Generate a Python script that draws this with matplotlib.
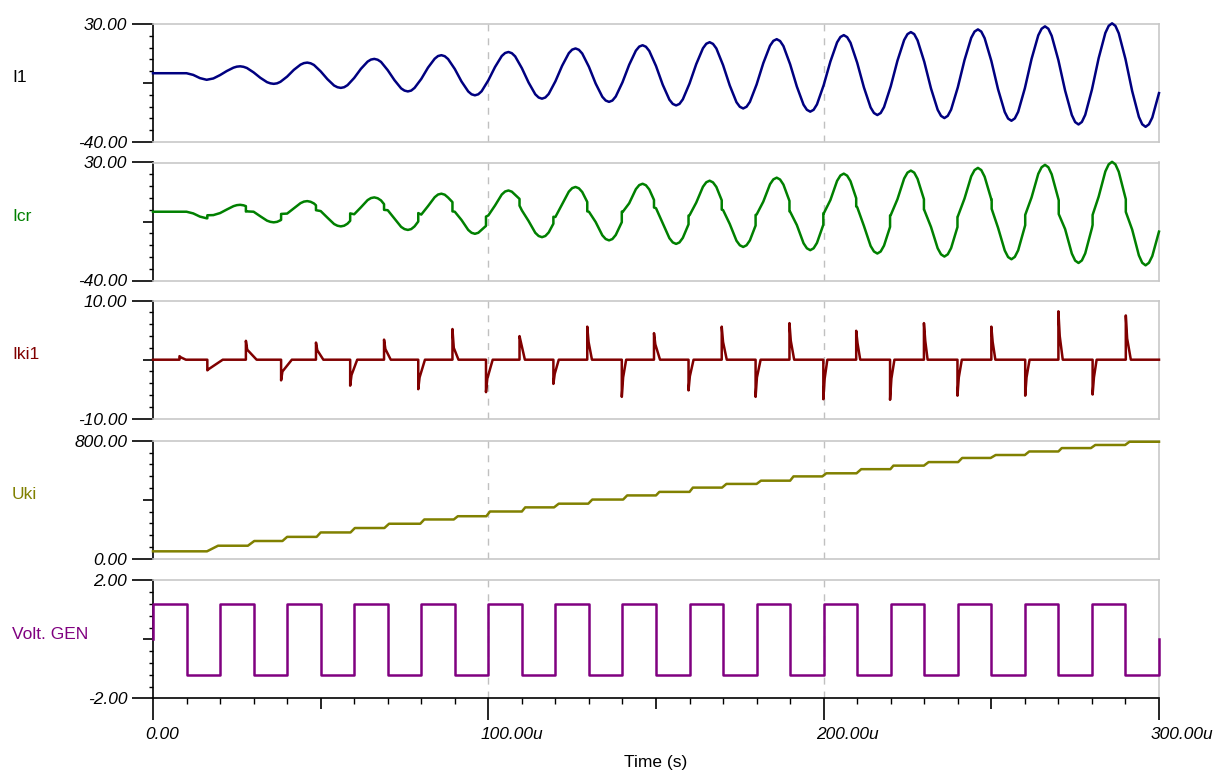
"""
Transient analysis plot - five stacked traces (I1, Icr, Iki1, Uki, Volt. GEN)
sharing one time axis, in the style of a circuit simulator output.
"""

import numpy as np
import matplotlib
matplotlib.use("Agg")  # headless

import matplotlib.pyplot as plt
from matplotlib.ticker import FixedLocator
from matplotlib.transforms import ScaledTranslation

plt.rcParams["font.family"] = ["Liberation Sans", "DejaVu Sans"]

# ---------------------------------------------------------------------------
# Data (time in microseconds)
# ---------------------------------------------------------------------------

# I1 sampled every 2 us, t = 0 .. 300
i1_t = np.arange(0, 301, 2)
i1_values = [
    0.8, 0.8, 0.8, 0.8, 0.8, 0.8, -0.2, -2.1, -3.1, -2.3,
    -0.3, 2.1, 4.1, 4.9, 3.9, 1.3, -1.9, -4.5, -5.5, -4.3,
    -1.2, 2.8, 5.9, 7.1, 5.7, 1.9, -2.7, -6.5, -7.9, -6.3,
    -2.0, 3.4, 7.7, 9.3, 7.5, 2.6, -3.3, -8.2, -10.0, -7.9,
    -2.6, 4.1, 9.4, 11.5, 9.2, 3.3, -4.1, -10.0, -12.3, -9.9,
    -3.4, 4.5, 11.0, 13.4, 10.8, 3.8, -4.7, -11.7, -14.3, -11.5,
    -4.0, 5.2, 12.7, 15.5, 12.5, 4.6, -5.3, -13.2, -16.2, -13.0,
    -4.6, 5.8, 14.2, 17.4, 14.0, 5.1, -6.0, -14.9, -18.3, -14.7,
    -5.3, 6.2, 15.6, 19.2, 15.5, 5.6, -6.5, -16.4, -20.1, -16.2,
    -5.9, 6.8, 17.1, 21.0, 16.9, 6.1, -7.1, -17.9, -22.0, -17.7,
    -6.3, 7.7, 19.1, 23.4, 18.9, 7.0, -7.6, -19.5, -24.0, -19.3,
    -7.0, 8.2, 20.5, 25.2, 20.3, 7.6, -8.2, -20.9, -25.8, -20.8,
    -7.6, 8.6, 21.8, 26.8, 21.6, 8.1, -8.7, -22.2, -27.4, -22.1,
    -8.1, 9.3, 23.3, 28.6, 23.0, 8.5, -9.5, -24.0, -29.6, -23.9,
    -8.9, 9.7, 24.7, 30.4, 24.5, 9.2, -9.8, -25.1, -31.0, -25.5,
    -11.0,
]
# extra readings 1 us either side of each crest / trough (shared by I1 and Icr)
crest_t = [25, 27, 35, 37, 45, 47, 55, 57, 65, 67, 75, 77, 85, 87,
           95, 97, 105, 107, 115, 117, 125, 127, 135, 137, 145, 147, 155, 157,
           165, 167, 175, 177, 185, 187, 195, 197, 205, 207, 215, 217, 225, 227,
           235, 237, 245, 247, 255, 257, 265, 267, 275, 277, 285, 287, 295, 297]
crest_v = [4.7, 4.6, -5.2, -5.2, 6.8, 6.7, -7.5, -7.5, 8.9, 8.8, -9.5, -9.5, 11.0, 10.9,
           -11.7, -11.7, 12.8, 12.7, -13.6, -13.6, 14.8, 14.7, -15.4, -15.4, 16.6, 16.5,
           -17.4, -17.4, 18.3, 18.2, -19.1, -19.1, 20.0, 19.9, -20.9, -20.9, 22.3, 22.2,
           -22.8, -22.8, 24.0, 24.0, -24.5, -24.5, 25.5, 25.5, -26.1, -26.0, 27.2, 27.2,
           -28.2, -28.1, 28.9, 28.9, -29.5, -29.5]

# Icr on the same 2 us grid, plus the small steps where the diode conducts
icr_values = [
    0.8, 0.8, 0.8, 0.8, 0.8, 0.8, -0.2, -2.1, -3.1, -1.2,
    0.0, 2.1, 4.1, 4.9, 1.0, 0.8, -1.9, -4.5, -5.5, -4.3,
    -0.3, 2.8, 5.9, 7.1, 5.7, 1.2, -2.7, -6.5, -7.9, -6.3,
    -0.7, 3.4, 7.7, 9.3, 7.5, 1.7, -3.3, -8.2, -10.0, -7.9,
    -0.9, 4.1, 9.4, 11.5, 9.2, 0.8, -4.1, -10.0, -12.3, -9.9,
    -1.4, 4.5, 11.0, 13.4, 10.8, 1.6, -4.7, -11.7, -14.3, -11.5,
    -2.3, 5.2, 12.7, 15.5, 12.5, 0.8, -5.3, -13.2, -16.2, -13.0,
    0.5, 5.8, 14.2, 17.4, 14.0, 2.9, -6.0, -14.9, -18.3, -14.7,
    -1.3, 6.2, 15.6, 19.2, 15.5, 1.8, -6.5, -16.4, -20.1, -16.2,
    -0.9, 6.8, 17.1, 21.0, 16.9, 0.8, -7.1, -17.9, -22.0, -17.7,
    -0.3, 7.7, 19.1, 23.4, 18.9, 3.5, -7.6, -19.5, -24.0, -19.3,
    -1.2, 8.2, 20.5, 25.2, 20.3, 1.8, -8.2, -20.9, -25.8, -20.8,
    -2.0, 8.6, 21.8, 26.8, 21.6, 8.1, -8.7, -22.2, -27.4, -22.1,
    -8.1, 9.3, 23.3, 28.6, 23.0, 8.5, -9.5, -24.0, -29.6, -23.9,
    -8.9, 9.7, 24.7, 30.4, 24.5, 9.2, -9.8, -25.1, -31.0, -25.5,
    -11.0,
]
icr_step_t = [16.2, 27.7, 38.2, 48.6, 58.8, 68.9, 79.1, 89.3, 99.3, 109.3,
              119.4, 129.5, 139.8, 149.4, 159.7, 169.6, 179.7, 189.8, 199.9, 209.7,
              219.8, 229.9, 239.9, 250.1, 260.1, 270.1, 280.2, 290.1]
icr_step_before = [-3.1, 4.1, -4.0, 4.6, -4.6, 5.3, -5.0, 6.5, -7.6, 8.4,
                   -6.3, 6.6, -5.4, 7.8, -6.7, 7.6, -7.4, 7.2, -6.9, 8.8,
                   -8.2, 8.2, -8.3, 8.1, -7.2, 7.6, -7.0, 8.2]
icr_step_after = [-1.3, 0.9, -0.5, 1.7, -0.2, 1.9, 0.0, 1.0, -2.1, 4.4,
                  -2.2, 1.0, 0.9, 3.3, -1.5, 2.0, -1.1, 1.0, -0.2, 3.9,
                  -1.4, 2.0, -2.2, 2.5, -1.1, -0.6, -1.1, 0.7]

# Iki1: short current pulses (onset, peak, value shortly after, back to zero)
iki_onset = [7.9, 16.2, 27.7, 38.2, 48.6, 58.8, 68.9, 79.1, 89.3, 99.3,
             109.3, 119.4, 129.5, 139.8, 149.4, 159.7, 169.6, 179.7, 189.8, 199.9,
             209.7, 219.8, 229.9, 239.9, 250.0, 260.1, 270.0, 280.2, 290.1]
iki_peak = [0.6, -1.8, 3.2, -3.5, 2.9, -4.4, 3.4, -5.0, 5.2, -5.5,
            4.0, -4.1, 5.6, -6.3, 4.5, -5.2, 5.6, -6.3, 6.2, -6.7,
            4.9, -6.8, 6.2, -6.1, 5.6, -6.1, 8.2, -5.9, 7.5]
iki_tail = [0.4, -1.6, 1.7, -2.0, 1.6, -2.6, 1.8, -3.0, 2.0, -3.2,
            3.0, -2.4, 3.0, -3.0, 2.6, -2.8, 3.0, -3.0, 3.2, -3.2,
            2.8, -3.2, 3.2, -3.0, 3.0, -3.0, 4.0, -3.0, 3.6]
iki_end = [9.8, 20.8, 30.9, 41.4, 50.8, 60.9, 70.9, 81.1, 91.1, 101.3,
           110.9, 121.0, 130.9, 141.1, 151.2, 161.2, 171.1, 181.2, 191.2, 201.1,
           210.9, 221.1, 231.0, 241.2, 251.2, 261.4, 271.3, 281.4, 291.6]

# Uki: staircase (each rise has a start and end time)
uki_rise_start = [16.1, 28.3, 38.6, 48.8, 58.9, 69.0, 79.7, 89.7, 99.4, 110.0,
                  119.6, 129.8, 140.2, 150.0, 160.0, 169.7, 180.0, 190.0, 199.6, 209.8,
                  219.9, 229.9, 240.1, 249.8, 260.0, 270.0, 279.7, 289.9]
uki_rise_end = [19.4, 30.2, 40.0, 50.0, 60.2, 70.4, 80.9, 90.9, 100.5, 111.0,
                121.0, 131.0, 141.4, 151.0, 161.0, 171.0, 181.3, 191.0, 200.8, 211.2,
                220.8, 231.3, 241.3, 251.3, 261.3, 271.0, 281.0, 291.2]
uki_levels = [50, 88, 120, 148, 178, 208, 237, 266, 288, 320,
              348, 373, 401, 429, 453, 482, 507, 529, 558, 579,
              607, 631, 655, 683, 703, 727, 750, 771, 793]

# Volt. GEN: square wave, value held from each time to the next
gen_t = [0, 0, 10, 20, 30, 40, 50, 60, 70, 80, 90, 100, 110, 120, 130, 140,
         150, 160, 170, 180, 190, 200, 210, 220, 230, 240, 250, 260, 270, 280,
         290, 300]
gen_v = [0, 1.2, -1.2, 1.2, -1.2, 1.2, -1.2, 1.2, -1.2, 1.2, -1.2, 1.2, -1.2,
         1.2, -1.2, 1.2, -1.2, 1.2, -1.2, 1.2, -1.2, 1.2, -1.2, 1.2, -1.2, 1.2,
         -1.2, 1.2, -1.2, 1.2, -1.2, 0]

# ---------------------------------------------------------------------------
# Build polylines from the read values
# ---------------------------------------------------------------------------

def merged(t_parts, v_parts):
    """Concatenate reading sets and order them by time (stable)."""
    t = np.concatenate([np.asarray(p, dtype=float) for p in t_parts])
    v = np.concatenate([np.asarray(p, dtype=float) for p in v_parts])
    order = np.argsort(t, kind="stable")
    return t[order], v[order]


i1_t_all, i1_v_all = merged([i1_t, crest_t], [i1_values, crest_v])
icr_t_all, icr_v_all = merged([i1_t, crest_t, icr_step_t, icr_step_t],
                              [icr_values, crest_v, icr_step_before, icr_step_after])

iki_t_pts, iki_v_pts = [0.0], [0.0]
for on, pk, tl, en in zip(iki_onset, iki_peak, iki_tail, iki_end):
    iki_t_pts += [on, on, on + 0.4, en]
    iki_v_pts += [0.0, pk, tl, 0.0]
iki_t_pts.append(300.0)
iki_v_pts.append(0.0)

uki_t_pts, uki_v_pts = [0.0], [uki_levels[0]]
for k, (s, e) in enumerate(zip(uki_rise_start, uki_rise_end)):
    uki_t_pts += [s, e]
    uki_v_pts += [uki_levels[k], uki_levels[k + 1]]
uki_t_pts.append(300.0)
uki_v_pts.append(uki_levels[-1])

# ---------------------------------------------------------------------------
# Figure layout (pixel geometry of the reference)
# ---------------------------------------------------------------------------

W, H = 1216, 771
LEFT, RIGHT = 153, 1159
PANEL_TOPS = [24, 162.5, 300.7, 440.7, 580.3]
PANEL_H = 118

FRAME = "#c8c8c8"
GRID = "#c0c0c0"
FS = 12.5

panels = [
    ("I1", "#000080", "black", (-40, 30), ("-40.00", "30.00")),
    ("Icr", "#008000", "#008000", (-40, 30), ("-40.00", "30.00")),
    ("Iki1", "#800000", "#800000", (-10, 10), ("-10.00", "10.00")),
    ("Uki", "#808000", "#808000", (0, 800), ("0.00", "800.00")),
    ("Volt. GEN", "#800080", "#800080", (-2, 2), ("-2.00", "2.00")),
]
traces = [
    (i1_t_all, i1_v_all, None),
    (icr_t_all, icr_v_all, None),
    (iki_t_pts, iki_v_pts, None),
    (uki_t_pts, uki_v_pts, None),
    (gen_t, gen_v, "steps-post"),
]

fig = plt.figure(figsize=(W / 100, H / 100), dpi=100)

for idx, ((name, color, lcolor, (lo, hi), (lo_lbl, hi_lbl)), (tx, ty, ds)) in enumerate(
        zip(panels, traces)):
    top = PANEL_TOPS[idx]
    ax = fig.add_axes([LEFT / W, 1 - (top + PANEL_H) / H,
                       (RIGHT - LEFT) / W, PANEL_H / H])
    last = idx == len(panels) - 1

    ax.plot(tx, ty, color=color, linewidth=1.8, drawstyle=ds or "default",
            clip_on=False, zorder=3)

    ax.set_xlim(0, 300)
    ax.set_ylim(lo, hi)

    for side in ("top", "right", "bottom"):
        ax.spines[side].set_color(FRAME)
        ax.spines[side].set_linewidth(1.2)
    ax.spines["left"].set_color("black")
    ax.spines["left"].set_linewidth(1.2)
    if last:
        ax.spines["bottom"].set_color("black")

    for xv in (100, 200):
        ax.axvline(xv, color=GRID, linewidth=1.0, linestyle=(0, (5, 5)), zorder=1)

    # y axis: labelled ends, a mid tick, ten minor divisions
    mid = (lo + hi) / 2
    ax.yaxis.set_major_locator(FixedLocator([lo, mid, hi]))
    ax.set_yticklabels([lo_lbl, "", hi_lbl], fontstyle="italic", fontsize=FS)
    ax.yaxis.set_minor_locator(FixedLocator(np.linspace(lo, hi, 11)))
    ax.tick_params(axis="y", which="major", direction="out", length=15,
                   width=1.2, pad=3.5, color="black")
    ax.tick_params(axis="y", which="minor", direction="out", length=3,
                   width=1.0, color="black")
    ax.yaxis.get_major_ticks()[1].tick1line.set_markersize(7.5)

    if not last:
        ax.tick_params(axis="x", which="both", bottom=False, labelbottom=False)
    else:
        ax.xaxis.set_major_locator(FixedLocator([0, 50, 100, 150, 200, 250, 300]))
        ax.set_xticklabels(["0.00", "", "100.00u", "", "200.00u", "", "300.00u"],
                           fontstyle="italic", fontsize=FS)
        ax.xaxis.set_minor_locator(FixedLocator(np.arange(0, 301, 10)))
        ax.tick_params(axis="x", which="major", direction="out", length=16,
                       width=1.2, pad=5, color="black")
        ax.tick_params(axis="x", which="minor", direction="out", length=4,
                       width=1.0, color="black")
        for k in (1, 3, 5):
            ax.xaxis.get_major_ticks()[k].tick1line.set_markersize(8)
        shift = ScaledTranslation(-8 / 100, 0, fig.dpi_scale_trans)
        for lbl in ax.get_xticklabels():
            lbl.set_horizontalalignment("left")
            lbl.set_transform(lbl.get_transform() + shift)
        ax.set_xlabel("Time (s)", fontsize=FS, labelpad=9)

    fig.text(12 / W, 1 - (top + 54) / H, name, color=lcolor, fontsize=FS,
             ha="left", va="center")

fig.savefig("out.png", dpi=100)
